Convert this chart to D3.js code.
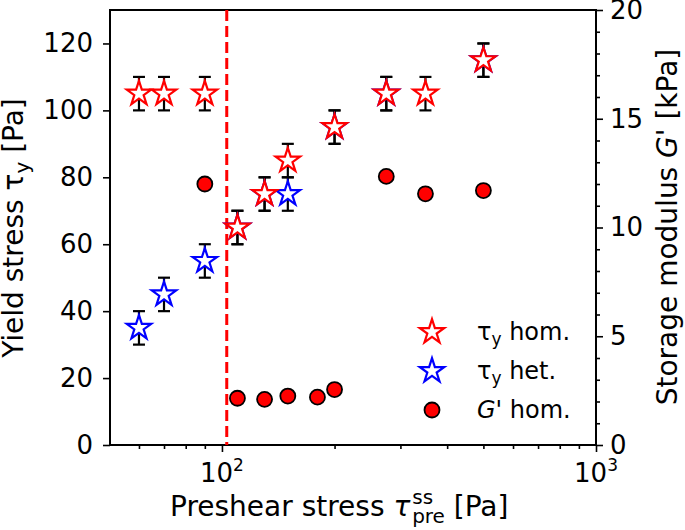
<!DOCTYPE html>
<html><head><meta charset="utf-8">
<script src="https://cdn.jsdelivr.net/npm/d3@7"></script>
<style>body{margin:0;background:#fff}svg{display:block}text{font-family:"DejaVu Sans",sans-serif;fill:#000}</style>
</head><body>
<script>
const homX = [60, 70, 90, 110, 130, 150, 200, 275, 350, 500];
const homY = [105, 105, 105, 65, 75, 85, 95, 105, 105, 115];
const hetX = [60, 70, 90, 110, 130, 150, 200, 275, 500];
const hetY = [35, 45, 55, 65, 75, 75, 95, 105, 115];
const tauErr = 5;
const gX = [90, 110, 130, 150, 180, 200, 275, 350, 500];
const gY = [12.0, 2.15, 2.1, 2.25, 2.2, 2.55, 12.35, 11.55, 11.7];
const critStress = 103;
const leftTicks = [0, 20, 40, 60, 80, 100, 120];
const rightTicks = [0, 5, 10, 15, 20];
const legendLabels = [["τ", "y", " hom."], ["τ", "y", " het."], ["G", "", "' hom."]];

const W = 685, H = 530;
const L = 110, R = 596, T = 10, B = 445;
const svg = d3.select("body").append("svg").attr("width", W).attr("height", H);
const x = d3.scaleLog().domain([50.2, 1000]).range([L, R]);
const yL = d3.scaleLinear().domain([0, 130]).range([B, T]);
const yR = d3.scaleLinear().domain([0, 20]).range([B, T]);
const FS = 26, LFS = 28;

// axes
svg.append("g").attr("transform", `translate(${L},0)`)
  .call(d3.axisLeft(yL).tickValues(leftTicks).tickSize(7).tickPadding(10));
svg.append("g").attr("transform", `translate(${R},0)`)
  .call(d3.axisRight(yR).tickValues(rightTicks).tickSize(7).tickPadding(7));
svg.append("g").attr("transform", `translate(${R},0)`)
  .call(d3.axisRight(yR).tickValues(d3.range(0, 21).filter(v => v % 5)).tickSize(4).tickFormat(""));
const minorX = [60,70,80,90,200,300,400,500,600,700,800,900];
svg.append("g").attr("transform", `translate(0,${B})`)
  .call(d3.axisBottom(x).tickValues(minorX).tickSize(4).tickFormat(""));
svg.append("g").attr("transform", `translate(0,${B})`)
  .call(d3.axisBottom(x).tickValues([100, 1000]).tickSize(7).tickFormat(""));
svg.selectAll(".domain").remove();
svg.selectAll(".tick line").attr("stroke", "#000").attr("stroke-width", 1.6);
svg.selectAll(".tick text").attr("font-size", FS).attr("font-family", "DejaVu Sans").attr("fill", "#000");

// x tick labels with superscript
[[100, "2"], [1000, "3"]].forEach(([v, e]) => {
  const t = svg.append("text").attr("x", x(v)).attr("y", 482).attr("text-anchor", "middle").attr("font-size", FS);
  t.append("tspan").text("10");
  t.append("tspan").attr("font-size", 17).attr("dy", -11).text(e);
});

// frame
svg.append("rect").attr("x", L).attr("y", T).attr("width", R - L).attr("height", B - T)
  .attr("fill", "none").attr("stroke", "#000").attr("stroke-width", 2);

// dashed line
svg.append("line").attr("x1", x(critStress)).attr("x2", x(critStress)).attr("y1", T).attr("y2", B)
  .attr("stroke", "#ff0000").attr("stroke-width", 3).attr("stroke-dasharray", "11,5");

// error bars
function errBars(xs, ys) {
  const g = svg.append("g").attr("stroke", "#000").attr("stroke-width", 2.2);
  xs.forEach((xv, i) => {
    const cx = x(xv), y1 = yL(ys[i] - tauErr), y2 = yL(ys[i] + tauErr);
    g.append("line").attr("x1", cx).attr("x2", cx).attr("y1", y1).attr("y2", y2);
    g.append("line").attr("x1", cx - 6).attr("x2", cx + 6).attr("y1", y1).attr("y2", y1);
    g.append("line").attr("x1", cx - 6).attr("x2", cx + 6).attr("y1", y2).attr("y2", y2);
  });
}
errBars(hetX, hetY);
errBars(homX, homY);

const star = d3.symbol(d3.symbolStar).size(185)();
function stars(xs, ys, col) {
  svg.append("g").selectAll("path").data(xs).join("path")
    .attr("d", star)
    .attr("transform", (d, i) => `translate(${x(d)},${yL(ys[i])})`)
    .attr("fill", "#fff").attr("stroke", col).attr("stroke-width", 2.2).attr("stroke-linejoin", "miter");
}
stars(hetX, hetY, "#0000ff");
stars(homX, homY, "#ff0000");

svg.append("g").selectAll("circle").data(gX).join("circle")
  .attr("cx", d => x(d)).attr("cy", (d, i) => yR(gY[i])).attr("r", 7.5)
  .attr("fill", "#ff0000").attr("stroke", "#000").attr("stroke-width", 1.8);

// legend
const legCols = ["#ff0000", "#0000ff"];
legendLabels.forEach((lab, i) => {
  const ly = 332 + i * 39;
  if (i < 2) {
    svg.append("path").attr("d", star).attr("transform", `translate(432,${ly})`)
      .attr("fill", "#fff").attr("stroke", legCols[i]).attr("stroke-width", 2.2);
  } else {
    svg.append("circle").attr("cx", 432).attr("cy", ly).attr("r", 7.5)
      .attr("fill", "#ff0000").attr("stroke", "#000").attr("stroke-width", 1.8);
  }
  const t = svg.append("text").attr("x", 477).attr("y", ly + 8).attr("font-size", 24);
  t.append("tspan").attr("font-style", i === 2 ? "italic" : "normal").text(lab[0]);
  if (lab[1]) {
    t.append("tspan").attr("font-size", 17).attr("dy", 5).text(lab[1]);
    t.append("tspan").attr("dy", -5).text(lab[2]);
  } else t.append("tspan").text(lab[2]);
});

// axis labels
const xl = svg.append("text").attr("x", 170).attr("y", 516).attr("font-size", LFS);
xl.append("tspan").text("Preshear stress ");
xl.append("tspan").attr("font-style", "italic").text("τ");
xl.append("tspan").attr("font-size", 20).attr("dx", 2).attr("dy", -12).text("ss");
xl.append("tspan").attr("font-size", 20).attr("dx", -21).attr("dy", 19).text("pre");
xl.append("tspan").attr("dy", -7).text(" [Pa]");

const ylab = svg.append("text").attr("transform", "translate(23,228) rotate(-90)").attr("text-anchor", "middle").attr("font-size", LFS);
ylab.append("tspan").text("Yield stress τ");
ylab.append("tspan").attr("font-size", 20).attr("dy", 6).text("y");
ylab.append("tspan").attr("dy", -6).text(" [Pa]");

const yrl = svg.append("text").attr("transform", "translate(677,227) rotate(-90)").attr("text-anchor", "middle").attr("font-size", LFS);
yrl.append("tspan").text("Storage modulus ");
yrl.append("tspan").attr("font-style", "italic").text("G");
yrl.append("tspan").text("' [kPa]");
</script>
</body></html>
